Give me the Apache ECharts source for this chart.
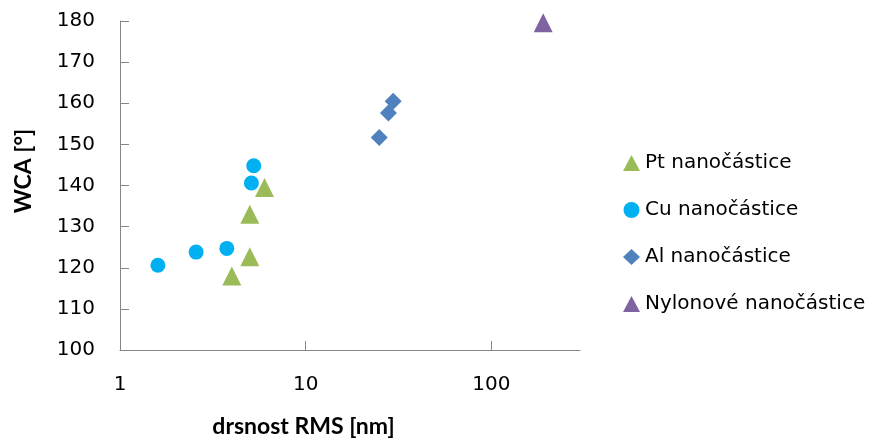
<!DOCTYPE html>
<html>
<head>
<meta charset="utf-8">
<script src="https://cdn.jsdelivr.net/npm/echarts@6/dist/echarts.min.js"></script>
<style>
  html, body { margin: 0; padding: 0; background: #fff; }
  #chart { width: 882px; height: 444px; }
</style>
</head>
<body>
<div id="chart"></div>
<script>
// RMS roughness [nm] vs. water contact angle [°] for each particle type
const ptRms = [4.0, 5.0, 5.0, 6.0];
const ptWca = [118, 122.7, 133, 139.5];
const cuRms = [1.6, 2.57, 3.76, 5.1, 5.25];
const cuWca = [120.6, 123.8, 124.7, 140.6, 144.8];
const alRms = [24.9, 27.9, 29.6];
const alWca = [151.7, 157.6, 160.5];
const nyRms = [190];
const nyWca = [179.6];

const seriesNames = ['Pt nanočástice', 'Cu nanočástice', 'Al nanočástice', 'Nylonové nanočástice'];
const xTicks = [1, 10, 100];
const yTicks = [100, 110, 120, 130, 140, 150, 160, 170, 180];

const FONT = '"DejaVu Sans", sans-serif';
const TITLE_FONT = 'Lato, "DejaVu Sans", sans-serif';
const pairs = (xs, ys) => xs.map((x, i) => [x, ys[i]]);

const chart = echarts.init(document.getElementById('chart'), null, { renderer: 'canvas' });

chart.setOption({
  animation: false,
  backgroundColor: '#ffffff',
  textStyle: { fontFamily: FONT },
  grid: { left: 120, right: 302, top: 21, bottom: 94, containLabel: false },
  legend: {
    orient: 'vertical',
    left: 618,
    top: 148,
    itemGap: 27,
    itemWidth: 17,
    itemHeight: 16,
    textGap: 3,
    textStyle: { fontFamily: FONT, fontSize: 20, lineHeight: 20, color: '#000' },
    data: seriesNames
  },
  xAxis: {
    type: 'log',
    logBase: 10,
    min: xTicks[0],
    max: 300,
    name: 'drsnost RMS [nm]',
    nameLocation: 'middle',
    nameGap: 65,
    nameTextStyle: {
      fontFamily: TITLE_FONT, fontSize: 23, fontWeight: 'bold', color: '#000',
      padding: [0, 93, 0, 0]
    },
    axisLine: { show: true, lineStyle: { color: '#868686', width: 1 } },
    axisTick: { show: true, inside: true, length: 9, lineStyle: { color: '#868686' } },
    axisLabel: {
      fontFamily: FONT, fontSize: 20, color: '#000', margin: 25,
      showMaxLabel: false,
      formatter: v => (xTicks.indexOf(Math.round(v)) >= 0 ? String(Math.round(v)) : '')
    },
    splitLine: { show: false },
    minorTick: { show: false }
  },
  yAxis: {
    type: 'value',
    min: yTicks[0],
    max: yTicks[yTicks.length - 1],
    interval: 10,
    name: 'WCA [°]',
    nameLocation: 'middle',
    nameRotate: 90,
    nameGap: 85,
    nameTextStyle: {
      fontFamily: TITLE_FONT, fontSize: 23, fontWeight: 'bold', color: '#000',
      padding: [0, 0, 0, 29]
    },
    axisLine: { show: true, lineStyle: { color: '#868686', width: 1 } },
    axisTick: { show: true, inside: true, length: 9, lineStyle: { color: '#868686' } },
    axisLabel: { fontFamily: FONT, fontSize: 20, color: '#000', margin: 25 },
    splitLine: { show: false }
  },
  series: [
    {
      name: seriesNames[0], type: 'scatter', symbol: 'triangle', symbolSize: 19,
      itemStyle: { color: '#9BBB59', opacity: 1 }, data: pairs(ptRms, ptWca)
    },
    {
      name: seriesNames[1], type: 'scatter', symbol: 'circle', symbolSize: 15,
      itemStyle: { color: '#00B0F0', opacity: 1 }, data: pairs(cuRms, cuWca)
    },
    {
      name: seriesNames[2], type: 'scatter', symbol: 'diamond', symbolSize: 17,
      itemStyle: { color: '#4F81BD', opacity: 1 }, data: pairs(alRms, alWca)
    },
    {
      name: seriesNames[3], type: 'scatter', symbol: 'triangle', symbolSize: 19,
      itemStyle: { color: '#8064A2', opacity: 1 }, data: pairs(nyRms, nyWca)
    }
  ]
});
</script>
</body>
</html>
